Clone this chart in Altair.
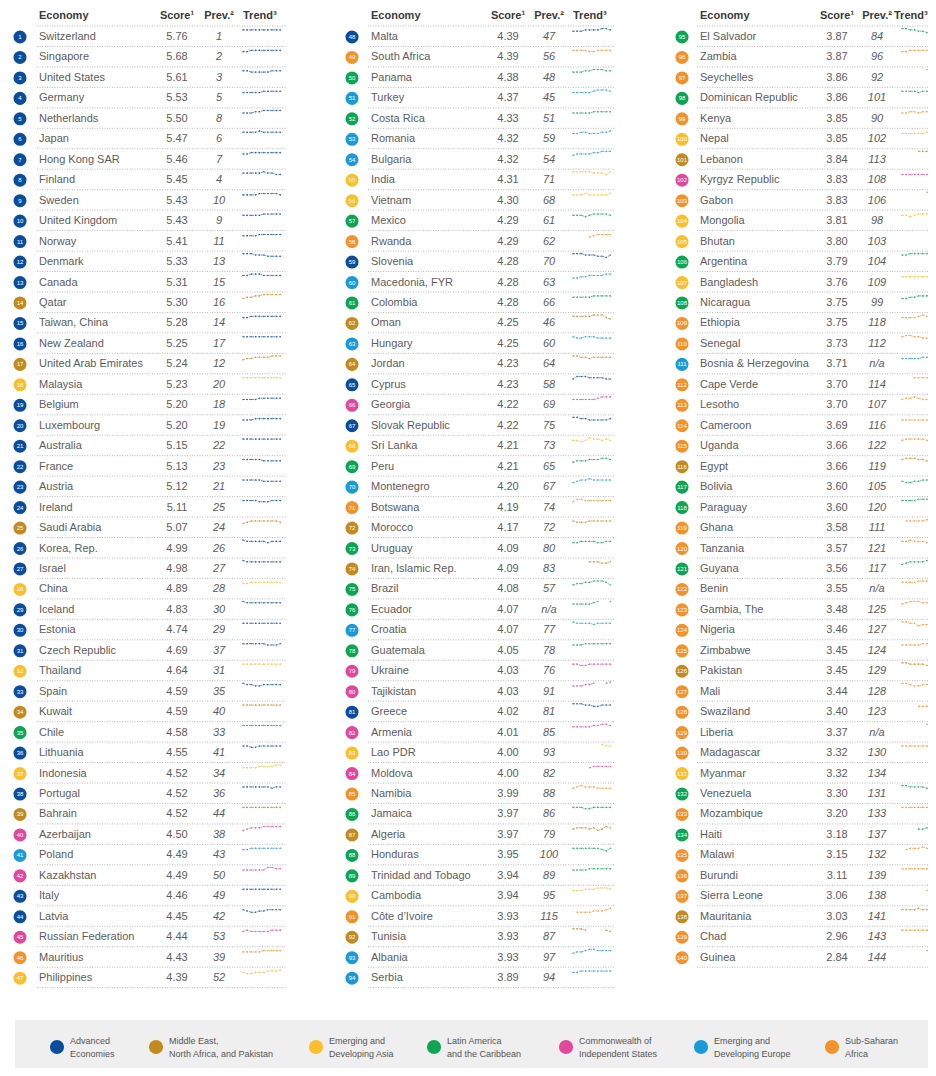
import altair as alt
import pandas as pd

# ---------------- data ----------------
ECONOMIES = [
    "Switzerland", "Singapore", "United States", "Germany", "Netherlands", "Japan", "Hong Kong SAR",
    "Finland", "Sweden", "United Kingdom", "Norway", "Denmark", "Canada", "Qatar", "Taiwan, China",
    "New Zealand", "United Arab Emirates", "Malaysia", "Belgium", "Luxembourg", "Australia", "France",
    "Austria", "Ireland", "Saudi Arabia", "Korea, Rep.", "Israel", "China", "Iceland", "Estonia",
    "Czech Republic", "Thailand", "Spain", "Kuwait", "Chile", "Lithuania", "Indonesia", "Portugal",
    "Bahrain", "Azerbaijan", "Poland", "Kazakhstan", "Italy", "Latvia", "Russian Federation",
    "Mauritius", "Philippines",
    "Malta", "South Africa", "Panama", "Turkey", "Costa Rica", "Romania", "Bulgaria", "India",
    "Vietnam", "Mexico", "Rwanda", "Slovenia", "Macedonia, FYR", "Colombia", "Oman", "Hungary",
    "Jordan", "Cyprus", "Georgia", "Slovak Republic", "Sri Lanka", "Peru", "Montenegro", "Botswana",
    "Morocco", "Uruguay", "Iran, Islamic Rep.", "Brazil", "Ecuador", "Croatia", "Guatemala",
    "Ukraine", "Tajikistan", "Greece", "Armenia", "Lao PDR", "Moldova", "Namibia", "Jamaica",
    "Algeria", "Honduras", "Trinidad and Tobago", "Cambodia", "Côte d\u2019Ivoire", "Tunisia",
    "Albania", "Serbia",
    "El Salvador", "Zambia", "Seychelles", "Dominican Republic", "Kenya", "Nepal", "Lebanon",
    "Kyrgyz Republic", "Gabon", "Mongolia", "Bhutan", "Argentina", "Bangladesh", "Nicaragua",
    "Ethiopia", "Senegal", "Bosnia & Herzegovina", "Cape Verde", "Lesotho", "Cameroon", "Uganda",
    "Egypt", "Bolivia", "Paraguay", "Ghana", "Tanzania", "Guyana", "Benin", "Gambia, The",
    "Nigeria", "Zimbabwe", "Pakistan", "Mali", "Swaziland", "Liberia", "Madagascar", "Myanmar",
    "Venezuela", "Mozambique", "Haiti", "Malawi", "Burundi", "Sierra Leone", "Mauritania", "Chad",
    "Guinea",
]

SCORES = [
    5.76, 5.68, 5.61, 5.53, 5.50, 5.47, 5.46, 5.45, 5.43, 5.43, 5.41, 5.33, 5.31, 5.30, 5.28, 5.25,
    5.24, 5.23, 5.20, 5.20, 5.15, 5.13, 5.12, 5.11, 5.07, 4.99, 4.98, 4.89, 4.83, 4.74, 4.69, 4.64,
    4.59, 4.59, 4.58, 4.55, 4.52, 4.52, 4.52, 4.50, 4.49, 4.49, 4.46, 4.45, 4.44, 4.43, 4.39,
    4.39, 4.39, 4.38, 4.37, 4.33, 4.32, 4.32, 4.31, 4.30, 4.29, 4.29, 4.28, 4.28, 4.28, 4.25, 4.25,
    4.23, 4.23, 4.22, 4.22, 4.21, 4.21, 4.20, 4.19, 4.17, 4.09, 4.09, 4.08, 4.07, 4.07, 4.05, 4.03,
    4.03, 4.02, 4.01, 4.00, 4.00, 3.99, 3.97, 3.97, 3.95, 3.94, 3.94, 3.93, 3.93, 3.93, 3.89,
    3.87, 3.87, 3.86, 3.86, 3.85, 3.85, 3.84, 3.83, 3.83, 3.81, 3.80, 3.79, 3.76, 3.75, 3.75, 3.73,
    3.71, 3.70, 3.70, 3.69, 3.66, 3.66, 3.60, 3.60, 3.58, 3.57, 3.56, 3.55, 3.48, 3.46, 3.45, 3.45,
    3.44, 3.40, 3.37, 3.32, 3.32, 3.30, 3.20, 3.18, 3.15, 3.11, 3.06, 3.03, 2.96, 2.84,
]

PREV = [
    "1", "2", "3", "5", "8", "6", "7", "4", "10", "9", "11", "13", "15", "16", "14", "17", "12", "20",
    "18", "19", "22", "23", "21", "25", "24", "26", "27", "28", "30", "29", "37", "31", "35", "40",
    "33", "41", "34", "36", "44", "38", "43", "50", "49", "42", "53", "39", "52",
    "47", "56", "48", "45", "51", "59", "54", "71", "68", "61", "62", "70", "63", "66", "46", "60",
    "64", "58", "69", "75", "73", "65", "67", "74", "72", "80", "83", "57", "n/a", "77", "78", "76",
    "91", "81", "85", "93", "82", "88", "86", "79", "100", "89", "95", "115", "87", "97", "94",
    "84", "96", "92", "101", "90", "102", "113", "108", "106", "98", "103", "104", "109", "99", "118",
    "112", "n/a", "114", "107", "116", "122", "119", "105", "120", "111", "121", "117", "n/a", "125",
    "127", "124", "129", "128", "123", "n/a", "130", "134", "131", "133", "137", "132", "139", "138",
    "141", "143", "144",
]

# A advanced, M MENAP, Y emerging Asia, L Latin America, C CIS, E emerging Europe, S sub-Saharan
GROUPS = list(
    "AAAAAAAAAAAAAMAAMYAAAAAAMAAYAAAYAMLAYAMCECAACSY"
    "ASLELEEYYLSAELMEMACAYLESMLMLLELCCACYCSLMLLYSMEE"
    "LSSLSYMCSYYLYLSSESSSSMLLSSLSSSSMSSSSYLSLSSSMSS"
)

# trend sparklines (approximate relative levels 0-4, '-' = no value)
TRENDS = [
    "2222222222", "1122222222", "2211111222", "1111122222", "1112233333", "2222322222",
    "1122222222", "2222232211", "1111222221", "1111122222", "1111222222", "3332221111",
    "2233322222", "0112233333", "1122222222", "2222222222", "0112222333", "2222222222",
    "1111222222", "1112222222", "2222222222", "2222211111", "2222211111", "2222111222",
    "0122222221", "3222221222", "3222222222", "1122222222", "3222222222", "2222222222",
    "2222221112", "2222222222", "3221122222", "2222222222", "2222222222", "2211222222",
    "1111222233", "2222222122", "2222222222", "0122233333", "1122222222", "1111113322",
    "2222222222", "2100112222", "1211111222", "1111122222", "1001112223",
    "1112222332", "2222112222", "1112233322", "1111123332", "1111122222", "1122111223",
    "0111122333", "3333322213", "1112111112", "1110122221", "----012222", "3332221102",
    "0011222233", "1111122222", "2222233310", "2112221111", "3322122222", "1333222211",
    "1111112333", "3322111112", "1101322121", "0111222332", "0122322222", "1332222222",
    "2111222222", "1122221122", "----222112", "0112233320", "1111123--3", "3222212222",
    "1112222222", "2211222222", "111223--34", "3332211222", "1111122332", "-------322",
    "----122222", "1232221111", "2221122222", "1222120132", "2222222102", "1111222222",
    "1112223332", "-000011123", "3332----21", "0112332222", "1122222222",
    "3322110123", "1122222333", "------3321", "2222122222", "1122122233", "1111112233",
    "----333210", "1111111222", "------3322", "1101222222", "--------22", "2233333211",
    "1111111111", "0011222332", "1111232222", "2332211122", "11111223--", "---2222222",
    "1223211222", "1111111111", "1222221111", "2333221100", "1001122221", "2222333322",
    "-222223222", "2232221211", "0122223332", "2222333210", "1233322211", "3322011211",
    "1111122222", "3322221111", "3321122222", "----111222", "------32--", "2222222222",
    "--------22", "3322221111", "2222222222", "----112222", "-122232211", "2222222222",
    "------1222", "2222322222", "2222222222", "------2221",
]

GROUP_KEYS = ["A", "M", "Y", "L", "C", "E", "S"]
GROUP_COLORS = ["#0b4d9d", "#c38a1d", "#fbbf2c", "#0ea552", "#e1489b", "#1b9ad8", "#f4922a"]
LEGEND_LABELS = [
    "Advanced\nEconomies", "Middle East,\nNorth Africa, and Pakistan", "Emerging and\nDeveloping Asia",
    "Latin America\nand the Caribbean", "Commonwealth of\nIndependent States",
    "Emerging and\nDeveloping Europe", "Sub-Saharan\nAfrica",
]
HEADERS = ["Economy", "Score\u00b9", "Prev.\u00b2", "Trend\u00b3"]
COLUMN_SIZES = [47, 47, 46]

# ---------------- layout (page pixels) ----------------
ROW_Y0, ROW_H = 37, 20.46
CIRCLE_X = [20, 352, 682]
NAME_X = [39, 371, 700]
SCORE_X = [177, 508, 837]
PREV_X = [219, 549, 877]
TREND_X = [243, 573, 902]
TREND_HEAD_X = [243, 573, 894]
TREND_STEP = 4.15
SEP_X1 = [37, 368, 697]
SEP_X2 = [287, 614, 940]
LEGEND_X = [57, 156, 316, 434, 566, 701, 832]
FONT = "Liberation Sans"


def pick(lst):
    return "[" + ",".join(str(v) for v in lst) + "][datum.col]"


# ---------------- tables ----------------
starts = [0, 47, 94]
rows = []
for i, name in enumerate(ECONOMIES):
    col = 0 if i < 47 else (1 if i < 94 else 2)
    rows.append(dict(rank=i + 1, name=name, score=f"{SCORES[i]:.2f}", prev=PREV[i],
                     grp=GROUPS[i], col=col, row=i - starts[col]))
df = pd.DataFrame(rows)

trows = []
for i, s in enumerate(TRENDS):
    col = 0 if i < 47 else (1 if i < 94 else 2)
    seg = 0
    prev_missing = False
    for t, ch in enumerate(s):
        if ch == "-":
            prev_missing = True
            continue
        if prev_missing and t > 0:
            seg += 1
        prev_missing = False
        trows.append(dict(key=f"{i}_{seg}", grp=GROUPS[i], col=col, row=i - starts[col], t=t, v=int(ch)))
dft = pd.DataFrame(trows)

sep = pd.DataFrame([dict(col=c, k=k) for c in range(3) for k in range(COLUMN_SIZES[c] + 1)])
hdr = pd.DataFrame([dict(col=c) for c in range(3)])
leg = pd.DataFrame(dict(grp=GROUP_KEYS, label=LEGEND_LABELS, lx=LEGEND_X))

W, H = 920, 1060
xs = alt.Scale(domain=[8, 8 + W], nice=False, zero=False)
ys = alt.Scale(domain=[8 + H, 8], nice=False, zero=False)
cs = alt.Scale(domain=GROUP_KEYS, range=GROUP_COLORS)


def X(f):
    return alt.X(f"{f}:Q", scale=xs, axis=None)


def Y(f):
    return alt.Y(f"{f}:Q", scale=ys, axis=None)


yexpr = f"{ROW_Y0} + datum.row * {ROW_H}"

base = alt.Chart(df).transform_calculate(
    yc=yexpr, cx=pick(CIRCLE_X), nx=pick(NAME_X), sx=pick(SCORE_X), px=pick(PREV_X)
)

circles = base.mark_circle(size=170, opacity=1).encode(
    x=X("cx"), y=Y("yc"), color=alt.Color("grp:N", scale=cs, legend=None))
nums = base.mark_text(color="white", fontSize=6, font=FONT, align="center", baseline="middle").encode(
    x=X("cx"), y=Y("yc"), text="rank:N")
names = base.mark_text(color="#5c5c5c", fontSize=11, font=FONT, align="left", baseline="middle").encode(
    x=X("nx"), y=Y("yc"), text="name:N")
scores = base.mark_text(color="#5c5c5c", fontSize=11, font=FONT, align="center", baseline="middle").encode(
    x=X("sx"), y=Y("yc"), text="score:N")
prevs = base.mark_text(color="#5c5c5c", fontSize=11, font=FONT, fontStyle="italic", align="center",
                       baseline="middle").encode(x=X("px"), y=Y("yc"), text="prev:N")

tbase = alt.Chart(dft).transform_calculate(
    tx=f"{pick(TREND_X)} + datum.t * {TREND_STEP}",
    ty=f"{ROW_Y0} + datum.row * {ROW_H} - 4.5 - datum.v * 1.3",
)
tlines = tbase.mark_line(strokeWidth=0.9, strokeDash=[2, 1], opacity=0.7).encode(
    x=X("tx"), y=Y("ty"), color=alt.Color("grp:N", scale=cs, legend=None), detail="key:N",
    order="t:Q")
tpoints = tbase.mark_circle(size=2.5, opacity=0.8).encode(
    x=X("tx"), y=Y("ty"), color=alt.Color("grp:N", scale=cs, legend=None))

seps = alt.Chart(sep).transform_calculate(
    sy=f"{ROW_Y0 - 11} + datum.k * {ROW_H}", x1=pick(SEP_X1), x2=pick(SEP_X2)
).mark_rule(color="#a8a8a8", strokeWidth=0.8, strokeDash=[1, 1.5]).encode(
    x=X("x1"), x2="x2:Q", y=Y("sy"))

hbase = alt.Chart(hdr).transform_calculate(
    hy="16", nx=pick(NAME_X), sx=pick(SCORE_X), px=pick(PREV_X), tx=pick(TREND_HEAD_X))
hstyle = dict(color="#3a3a3a", fontSize=11, font=FONT, fontWeight="bold", baseline="middle")
h1 = hbase.mark_text(text=HEADERS[0], align="left", **hstyle).encode(x=X("nx"), y=Y("hy"))
h2 = hbase.mark_text(text=HEADERS[1], align="center", **hstyle).encode(x=X("sx"), y=Y("hy"))
h3 = hbase.mark_text(text=HEADERS[2], align="center", **hstyle).encode(x=X("px"), y=Y("hy"))
h4 = hbase.mark_text(text=HEADERS[3], align="left", **hstyle).encode(x=X("tx"), y=Y("hy"))

box = alt.Chart(pd.DataFrame({"a": [0]})).mark_rect(color="#efefef").encode(
    x=alt.value(7), x2=alt.value(W), y=alt.value(1012), y2=alt.value(1064))

lbase = alt.Chart(leg).transform_calculate(ly="1047", ty="1041", tx="datum.lx + 13")
lcircles = lbase.mark_circle(size=200, opacity=1).encode(
    x=X("lx"), y=Y("ly"), color=alt.Color("grp:N", scale=cs, legend=None))
ltext = lbase.mark_text(color="#555555", fontSize=9, font=FONT, align="left", baseline="middle",
                        lineBreak="\n", lineHeight=13).encode(x=X("tx"), y=Y("ty"), text="label:N")

chart = alt.layer(
    box, seps, h1, h2, h3, h4, tlines, tpoints, circles, nums, names, scores, prevs, lcircles, ltext
).properties(
    width=W, height=H, padding=0, autosize=alt.AutoSizeParams(type="none"), background="white"
).configure_view(stroke=None)

chart.save("out.html", embed_options={"renderer": "svg", "actions": False})
